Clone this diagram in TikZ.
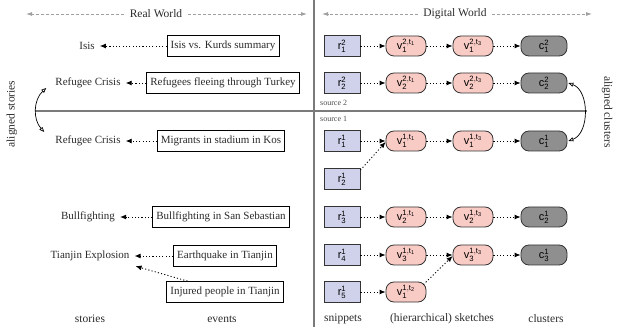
\documentclass[tikz,border=0pt]{standalone}
\usepackage{fontspec}
\setmainfont{Liberation Serif}
\setsansfont{Liberation Sans}
\usetikzlibrary{arrows.meta,calc}
\definecolor{rfill}{HTML}{CFD2EA}
\definecolor{vfill}{HTML}{F9CBC5}
\definecolor{cfill}{HTML}{8F8F8F}
\definecolor{linegray}{HTML}{7A7A7A}
\definecolor{headgray}{HTML}{A0A0A0}
\definecolor{txt}{HTML}{2A2A2A}
\begin{document}
\begin{tikzpicture}[x=1pt,y=1pt,
  font=\fontsize{11}{13}\selectfont, text=txt,
  eventbox/.style={draw=black, line width=0.8pt, minimum height=21pt, inner xsep=3.5pt},
  storynode/.style={inner sep=2pt},
  dotarrow/.style={line width=0.9pt, dash pattern=on 1.1pt off 2.2pt, -{Latex[length=6pt,width=5pt]}},
  rbox/.style={draw=black!80, line width=0.8pt, fill=rfill, minimum width=36pt, minimum height=21pt, inner sep=1pt, font=\fontsize{11}{12}\selectfont, text=black},
  vbox/.style={draw=black!80, line width=0.8pt, fill=vfill, rounded corners=8pt, minimum width=40pt, minimum height=20pt, inner sep=1pt, font=\fontsize{11}{12}\selectfont, text=black},
  cbox/.style={vbox, fill=cfill, minimum width=46pt},
  header/.style={font=\fontsize{11.5}{13}\selectfont},
  headarrow/.style={headgray, line width=0.8pt, dash pattern=on 3pt off 2pt, -{Latex[length=6pt,width=4pt]}},
  alignarrow/.style={line width=0.7pt, {Triangle[open,length=5pt,width=4pt]}-{Triangle[open,length=5pt,width=4pt]}},
  srclabel/.style={font=\fontsize{8}{9}\selectfont, text=black!70, inner sep=0pt},
  bottomlabel/.style={font=\fontsize{11.5}{13}\selectfont}
]
\useasboundingbox (0,0) rectangle (622,-334);

% frame lines
\coordinate (vtop) at (314,0);
\coordinate (vbot) at (314,-327);
\draw[linegray, line width=1.1pt] (vtop) -- (vbot);
\coordinate (hl) at (35,-111);
\coordinate (hr) at (587,-111);
\draw[linegray, line width=1.1pt] (hl) -- (hr);
\node[srclabel, anchor=west] (src2) at (320,-103) {source 2};
\node[srclabel, anchor=west] (src1) at (320,-119) {source 1};

% headers
\node[header] (RW) at (156,-14) {Real World};
\node[header] (DW) at (455,-14) {Digital World};
\coordinate (RWl) at (26,-14);
\coordinate (RWr) at (307,-14);
\coordinate (DWl) at (322,-14);
\coordinate (DWr) at (592,-14);
\draw[headarrow] ([xshift=-2pt]RW.west) -- (RWl);
\draw[headarrow] ([xshift=2pt]RW.east) -- (RWr);
\draw[headarrow] ([xshift=-2pt]DW.west) -- (DWl);
\draw[headarrow] ([xshift=2pt]DW.east) -- (DWr);

% events
\node[eventbox] (E1) at (223,-46) {Isis vs. Kurds summary};
\node[eventbox] (E2) at (223,-83) {Refugees fleeing through Turkey};
\node[eventbox] (E3) at (221,-141) {Migrants in stadium in Kos};
\node[eventbox] (E4) at (221,-217) {Bullfighting in San Sebastian};
\node[eventbox] (E5) at (225,-256) {Earthquake in Tianjin};
\node[eventbox] (E6) at (225,-292) {Injured people in Tianjin};

% stories
\node[storynode] (S1) at (87,-46) {Isis};
\node[storynode] (S2) at (88,-83) {Refugee Crisis};
\node[storynode] (S3) at (88,-141) {Refugee Crisis};
\node[storynode] (S4) at (88,-217) {Bullfighting};
\node[storynode] (S5) at (90,-256) {Tianjin Explosion};

\draw[dotarrow] (E1.west) -- ([xshift=3pt]S1.east);
\draw[dotarrow] (E2.west) -- ([xshift=3pt]S2.east);
\draw[dotarrow] (E3.west) -- ([xshift=3pt]S3.east);
\draw[dotarrow] (E4.west) -- ([xshift=3pt]S4.east);
\draw[dotarrow] (E5.west) -- ([xshift=3pt]S5.east);
\draw[dotarrow] ([xshift=21pt]E6.north west) -- ([xshift=4pt,yshift=-3pt]S5.south east);

% aligned stories
\coordinate (as1) at ($(S2.west)+(-7,-5)$);
\coordinate (as2) at ($(S3.west)+(-9,9)$);
\draw[alignarrow] (as1) to[bend right=45] (as2);
\node[rotate=90, font=\fontsize{11.5}{13}\selectfont] (AS) at (12,-114) {aligned stories};

% snippets / sketches / clusters
\node[rbox] (r12) at (342,-46) {$\mathsf{r^{2}_{1}}$};
\node[vbox] (v12a) at (406,-46) {$\mathsf{v^{2,t_1}_{1}}$};
\node[vbox] (v12b) at (473,-46) {$\mathsf{v^{2,t_3}_{1}}$};
\node[cbox] (c12) at (544,-46) {$\mathsf{c^{2}_{1}}$};

\node[rbox] (r22) at (342,-83) {$\mathsf{r^{2}_{2}}$};
\node[vbox] (v22a) at (406,-83) {$\mathsf{v^{2,t_1}_{2}}$};
\node[vbox] (v22b) at (473,-83) {$\mathsf{v^{2,t_3}_{2}}$};
\node[cbox] (c22) at (544,-83) {$\mathsf{c^{2}_{2}}$};

\node[rbox] (r11) at (342,-141) {$\mathsf{r^{1}_{1}}$};
\node[vbox] (v11a) at (406,-141) {$\mathsf{v^{1,t_1}_{1}}$};
\node[vbox] (v11b) at (473,-141) {$\mathsf{v^{1,t_3}_{1}}$};
\node[cbox] (c11) at (544,-141) {$\mathsf{c^{1}_{1}}$};

\node[rbox] (r21) at (342,-179) {$\mathsf{r^{1}_{2}}$};

\node[rbox] (r31) at (342,-217) {$\mathsf{r^{1}_{3}}$};
\node[vbox] (v21a) at (406,-217) {$\mathsf{v^{1,t_1}_{2}}$};
\node[vbox] (v21b) at (473,-217) {$\mathsf{v^{1,t_3}_{2}}$};
\node[cbox] (c21) at (544,-217) {$\mathsf{c^{1}_{2}}$};

\node[rbox] (r41) at (342,-255) {$\mathsf{r^{1}_{4}}$};
\node[vbox] (v31a) at (406,-255) {$\mathsf{v^{1,t_1}_{3}}$};
\node[vbox] (v31b) at (473,-255) {$\mathsf{v^{1,t_3}_{3}}$};
\node[cbox] (c31) at (544,-255) {$\mathsf{c^{1}_{3}}$};

\node[rbox] (r51) at (342,-292) {$\mathsf{r^{1}_{5}}$};
\node[vbox] (v11c) at (406,-292) {$\mathsf{v^{1,t_2}_{1}}$};

\foreach \a/\b in {r12/v12a, v12a/v12b, v12b/c12,
                   r22/v22a, v22a/v22b, v22b/c22,
                   r11/v11a, v11a/v11b, v11b/c11,
                   r31/v21a, v21a/v21b, v21b/c21,
                   r41/v31a, v31a/v31b, v31b/c31,
                   r51/v11c}
  \draw[dotarrow] (\a.east) -- (\b.west);
\draw[dotarrow] ([yshift=-2pt]r21.north east) -- ([yshift=-1pt]v11a.west);
\draw[dotarrow] ([xshift=-3pt,yshift=-3pt]v11c.north east) -- ([yshift=-1pt]v31b.west);

% aligned clusters
\draw[alignarrow] ([xshift=1pt]c22.east) to[bend left=70] ([xshift=1pt]c11.east);
\node[rotate=-90, font=\fontsize{11.5}{13}\selectfont] (AC) at (607,-112) {aligned clusters};

% bottom labels
\node[bottomlabel] (Lst) at (90,-319) {stories};
\node[bottomlabel] (Lev) at (222,-319) {events};
\node[bottomlabel] (Lsn) at (343,-319) {snippets};
\node[bottomlabel] (Lsk) at (442,-319) {(hierarchical) sketches};
\node[bottomlabel] (Lcl) at (546,-319) {clusters};
\end{tikzpicture}
\end{document}
